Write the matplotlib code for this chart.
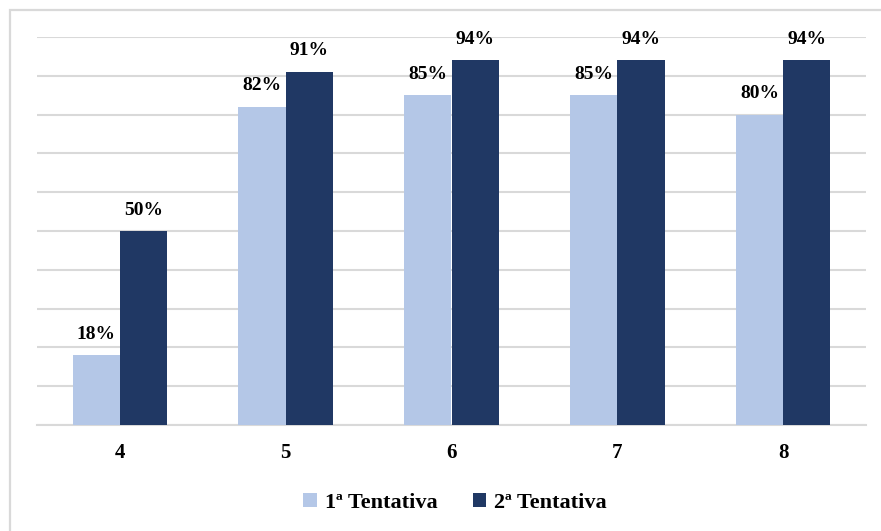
import matplotlib
matplotlib.use("Agg")
import matplotlib.pyplot as plt
from matplotlib.patches import Rectangle
import numpy as np

categories = ["4", "5", "6", "7", "8"]
first_try = [18, 82, 85, 85, 80]
second_try = [50, 91, 94, 94, 94]
series_names = ["1ª Tentativa", "2ª Tentativa"]

light = "#b4c7e7"
dark = "#203864"
grid = "#d9d9d9"

plt.rcParams["font.family"] = ["Liberation Serif", "DejaVu Serif"]
plt.rcParams["font.weight"] = "bold"

fig = plt.figure(figsize=(8.81, 5.31), dpi=100)
ax = fig.add_axes([37 / 881, 1 - 425 / 531, (866 - 37) / 881, (425 - 37) / 531])

# chart frame
fig.patches.append(Rectangle((10 / 881, -0.05), 1.0, 1 - 10 / 531 + 0.05,
                             transform=fig.transFigure, fill=False,
                             edgecolor=grid, linewidth=1.6))

x = np.arange(len(categories))
w = 0.285
b1 = ax.bar(x - w / 2, first_try, w, color=light, label=series_names[0], zorder=3)
b2 = ax.bar(x + w / 2, second_try, w, color=dark, label=series_names[1], zorder=3)

for bars, vals in ((b1, first_try), (b2, second_try)):
    for r, v in zip(bars, vals):
        ax.annotate(f"{v}%", (r.get_x() + r.get_width() / 2, v),
                    xytext=(0, 9), textcoords="offset points",
                    ha="center", va="bottom", fontsize=14, fontweight="bold")

ax.set_xlim(-0.5, len(categories) - 0.5)
ax.set_ylim(0, 100)
ax.set_yticks(np.arange(0, 101, 10))
ax.yaxis.grid(True, color=grid, linewidth=1.5, zorder=0)
ax.set_yticklabels([])
ax.tick_params(axis="y", length=0)
ax.set_xticks(x)
ax.set_xticklabels(categories, fontsize=15, fontweight="bold")
ax.tick_params(axis="x", length=0, pad=13)
for s in ("top", "right", "left"):
    ax.spines[s].set_visible(False)
ax.spines["bottom"].set_color(grid)
ax.spines["bottom"].set_linewidth(1.5)

fig.legend(loc="center", bbox_to_anchor=(455 / 881, 1 - 503 / 531), ncol=2,
           frameon=False, handlelength=0.6, handleheight=0.6,
           handletextpad=0.35, columnspacing=1.6,
           prop={"weight": "bold", "size": 16})

fig.savefig("out.png", dpi=100)
